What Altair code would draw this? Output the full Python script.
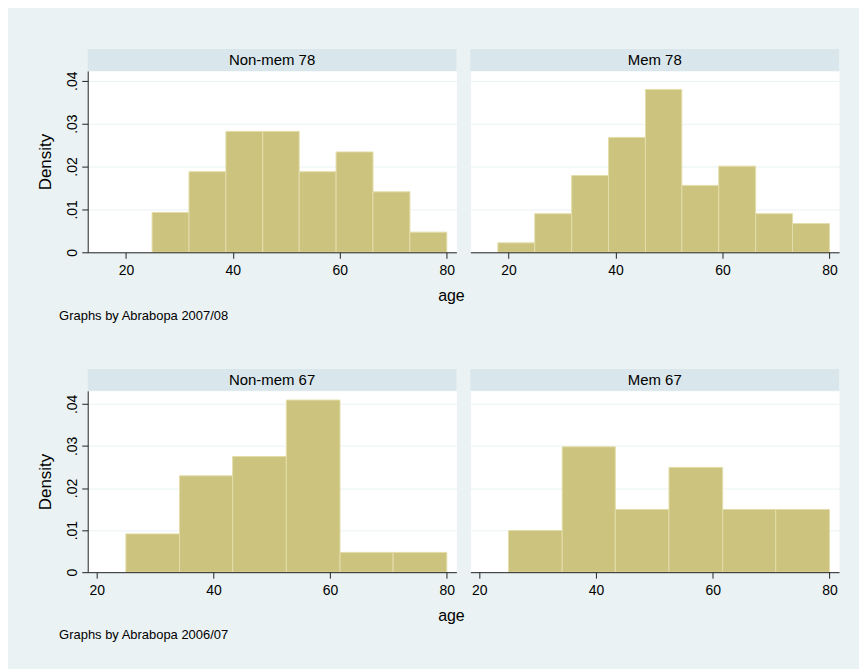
import altair as alt
import pandas as pd

# ---- data ----
top_edges = [18.0, 24.9, 31.8, 38.7, 45.6, 52.4, 59.3, 66.2, 73.1, 80.0]
bottom_edges = [25.0, 34.2, 43.3, 52.5, 61.7, 70.8, 80.0]

nonmem78 = [0.0, 0.0093, 0.0188, 0.0282, 0.0282, 0.0188, 0.0234, 0.0141, 0.0047]
mem78 = [0.0022, 0.0090, 0.0179, 0.0268, 0.0380, 0.0156, 0.0201, 0.0090, 0.0067]
nonmem67 = [0.0091, 0.0229, 0.0275, 0.0409, 0.0047, 0.0047]
mem67 = [0.0099, 0.0298, 0.0149, 0.0249, 0.0149, 0.0149]

panel_labels = ["Non-mem 78", "Mem 78", "Non-mem 67", "Mem 67"]
notes = ["Graphs by Abrabopa 2007/08", "Graphs by Abrabopa 2006/07"]
x_title = "age"
y_title = "Density"
x_ticks = [20, 40, 60, 80]
y_ticks = [0, 0.01, 0.02, 0.03, 0.04]

top_xdom = [12.86, 81.8]
bottom_xdom = [18.46, 81.65]
top_ydom = [0, 0.0423]
bottom_ydom = [0, 0.0431]

# ---- style ----
FONT = "Liberation Sans"
BG = "#EAF2F3"
STRIP = "#D9E6EB"
GRID = "#EAF2F3"
BAR = "#CBC37E"
EDGE = "#E3DDAA"
AX = "#222222"
W, H = 370, 182


def panel(edges, dens, label, xdom, ydom, left, note=None):
    df = pd.DataFrame({"x0": edges[:-1], "x1": edges[1:], "d": dens})
    df = df[df["d"] > 0]
    xaxis = alt.Axis(values=x_ticks, title=None, grid=False, tickSize=6,
                     labelPadding=5, labelFontSize=14, labelColor="black",
                     domainColor=AX, tickColor=AX, labelFlush=False, zindex=1)
    if left:
        yaxis = alt.Axis(values=y_ticks, title=y_title, grid=True, gridColor=GRID,
                         tickSize=6, labelAngle=-90, labelPadding=2, labelFontSize=14,
                         labelColor="black", labelFlush=False,
                         labelExpr="datum.value == 0 ? '0' : replace(format(datum.value, '.2f'), '0.', '.')",
                         titleFontSize=17, titleFontWeight="normal", titleColor="black",
                         titleX=-42, titleY=H / 2, titleAngle=270,
                         titleBaseline="middle", titleAlign="center",
                         domainColor=AX, tickColor=AX)
    else:
        yaxis = alt.Axis(values=y_ticks, title=None, grid=True, gridColor=GRID,
                         labels=False, ticks=False, domain=False)
    bars = alt.Chart(df).mark_rect(fill=BAR, stroke=EDGE, strokeWidth=1).encode(
        x=alt.X("x0:Q", scale=alt.Scale(domain=xdom, nice=False, zero=False), axis=xaxis),
        x2="x1:Q",
        y=alt.Y("d:Q", scale=alt.Scale(domain=ydom, nice=False, zero=True), axis=yaxis),
        y2=alt.datum(0),
    )
    lab = pd.DataFrame({"label": [label]})
    strip = alt.Chart(lab).mark_rect(fill=STRIP).encode(
        x=alt.value(0), x2=alt.value(W), y=alt.value(-22), y2=alt.value(0))
    strip_text = alt.Chart(lab).mark_text(fontSize=15, baseline="middle", color="black").encode(
        text="label:N", x=alt.value(W / 2), y=alt.value(-11))
    layers = [strip, strip_text, bars]
    if note is not None:
        ndf = pd.DataFrame({"note": [note], "t": [x_title]})
        age = alt.Chart(ndf).mark_text(fontSize=16, align="center", baseline="alphabetic",
                                       color="black").encode(
            text="t:N", x=alt.value(365), y=alt.value(H + 48.7))
        nt = alt.Chart(ndf).mark_text(fontSize=13, align="left", baseline="alphabetic",
                                      color="black").encode(
            text="note:N", x=alt.value(-28.7), y=alt.value(H + 67.5))
        layers += [age, nt]
    return alt.layer(*layers).properties(width=W, height=H)


p1 = panel(top_edges, nonmem78, panel_labels[0], top_xdom, top_ydom, True, notes[0])
p2 = panel(top_edges, mem78, panel_labels[1], top_xdom, top_ydom, False)
p3 = panel(bottom_edges, nonmem67, panel_labels[2], bottom_xdom, bottom_ydom, True, notes[1])
p4 = panel(bottom_edges, mem67, panel_labels[3], bottom_xdom, bottom_ydom, False)

row1 = alt.hconcat(p1, p2, spacing=14, bounds="flush")
row2 = alt.hconcat(p3, p4, spacing=14, bounds="flush")

chart = alt.vconcat(row1, row2, spacing=45).properties(
    background=BG,
    padding={"left": 28, "top": 39, "right": 19, "bottom": 25},
).configure(font=FONT).configure_view(fill="white", stroke="transparent")

chart.save("out.html", embed_options={"renderer": "svg", "actions": False})
